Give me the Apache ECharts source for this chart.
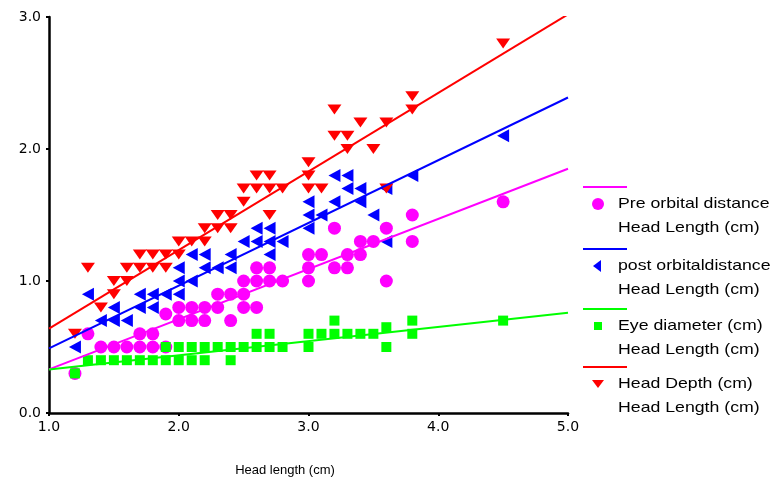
<!DOCTYPE html>
<html>
<head>
<meta charset="utf-8">
<script src="https://cdn.jsdelivr.net/npm/echarts@6/dist/echarts.min.js"></script>
<style>
  html, body { margin: 0; padding: 0; background: #fff; }
  #chart { width: 777px; height: 485px; }
</style>
</head>
<body>
<div id="chart"></div>
<script>
// points, [head length, value]
const preOrbital = [
  [1.2, 0.3], [1.3, 0.6], [1.4, 0.5], [1.5, 0.5], [1.6, 0.5], [1.7, 0.5], [1.8, 0.5],
  [1.7, 0.6], [1.8, 0.6], [1.9, 0.5], [1.9, 0.75],
  [2.0, 0.7], [2.1, 0.7], [2.2, 0.7], [2.4, 0.7],
  [2.0, 0.8], [2.1, 0.8], [2.2, 0.8], [2.3, 0.8], [2.5, 0.8], [2.6, 0.8],
  [2.3, 0.9], [2.4, 0.9], [2.5, 0.9],
  [2.5, 1.0], [2.6, 1.0], [2.7, 1.0], [2.8, 1.0], [3.0, 1.0],
  [2.6, 1.1], [2.7, 1.1], [3.0, 1.1], [3.2, 1.1], [3.3, 1.1],
  [3.0, 1.2], [3.1, 1.2], [3.3, 1.2], [3.4, 1.2],
  [3.4, 1.3], [3.5, 1.3], [3.8, 1.3],
  [3.2, 1.4], [3.6, 1.4], [3.8, 1.5], [3.6, 1.0], [4.5, 1.6]
];
const postOrbital = [
  [1.2, 0.5], [1.3, 0.9], [1.4, 0.7], [1.5, 0.7], [1.5, 0.8], [1.6, 0.7],
  [1.7, 0.8], [1.7, 0.9], [1.8, 0.8], [1.8, 0.9], [1.9, 0.9],
  [2.0, 0.9], [2.0, 1.0], [2.0, 1.1], [2.1, 1.0], [2.1, 1.2],
  [2.2, 1.1], [2.2, 1.2], [2.3, 1.1], [2.4, 1.1], [2.4, 1.2],
  [2.5, 1.3], [2.6, 1.3], [2.7, 1.3], [2.8, 1.3], [2.6, 1.4], [2.7, 1.4], [2.7, 1.2],
  [3.0, 1.4], [3.0, 1.5], [3.0, 1.6], [3.1, 1.5], [3.2, 1.6],
  [3.2, 1.8], [3.3, 1.8], [3.3, 1.7], [3.4, 1.7], [3.4, 1.6],
  [3.5, 1.5], [3.6, 1.7], [3.6, 1.3], [3.8, 1.8], [4.5, 2.1]
];
const eyeDiameter = [
  [1.2, 0.3],
  [1.3, 0.4], [1.4, 0.4], [1.5, 0.4], [1.6, 0.4], [1.7, 0.4], [1.8, 0.4], [1.9, 0.4],
  [2.0, 0.4], [2.1, 0.4], [2.2, 0.4], [2.4, 0.4],
  [1.9, 0.5], [2.0, 0.5], [2.1, 0.5], [2.2, 0.5], [2.3, 0.5], [2.4, 0.5], [2.5, 0.5],
  [2.6, 0.5], [2.7, 0.5], [2.8, 0.5], [2.6, 0.6], [2.7, 0.6],
  [3.0, 0.5], [3.0, 0.6], [3.1, 0.6], [3.2, 0.6], [3.3, 0.6], [3.4, 0.6], [3.5, 0.6],
  [3.2, 0.7], [3.6, 0.65], [3.6, 0.5], [3.8, 0.6], [3.8, 0.7], [4.5, 0.7]
];
const headDepth = [
  [1.2, 0.6], [1.3, 1.1], [1.4, 0.8], [1.5, 0.9], [1.5, 1.0], [1.6, 1.0], [1.6, 1.1],
  [1.7, 1.1], [1.7, 1.2], [1.8, 1.1], [1.8, 1.2], [1.9, 1.1], [1.9, 1.2],
  [2.0, 1.2], [2.0, 1.3], [2.1, 1.3], [2.2, 1.3], [2.2, 1.4], [2.3, 1.4], [2.3, 1.5],
  [2.4, 1.4], [2.4, 1.5], [2.5, 1.6], [2.5, 1.7], [2.6, 1.7], [2.6, 1.8],
  [2.7, 1.5], [2.7, 1.7], [2.7, 1.8], [2.8, 1.7],
  [3.0, 1.7], [3.0, 1.8], [3.0, 1.9], [3.1, 1.7],
  [3.2, 2.1], [3.2, 2.3], [3.3, 2.0], [3.3, 2.1], [3.4, 2.2], [3.5, 2.0],
  [3.6, 1.7], [3.6, 2.2], [3.8, 2.3], [3.8, 2.4], [4.5, 2.8]
];

// regression lines, value at head length 1.0 and 5.0
const fitX = [1.0, 5.0];
const preFit = [0.33, 1.85];
const postFit = [0.49, 2.39];
const eyeFit = [0.33, 0.76];
const depthFit = [0.64, 3.02];

const xTicks = [1, 2, 3, 4, 5];
const yTicks = [0, 1, 2, 3];

const legendItems = [
  { color: '#ff00ff', symbol: 'circle', label: 'Pre orbital distance' },
  { color: '#0000ff', symbol: 'left', label: 'post orbitaldistance' },
  { color: '#00ff00', symbol: 'square', label: 'Eye diameter (cm)' },
  { color: '#ff0000', symbol: 'down', label: 'Head Depth (cm)' }
];
// y of each legend colour line
const legendTops = [187, 249, 309, 367];

const FONT = "'Liberation Sans', Arial, sans-serif";
const TICK_FONT = "'DejaVu Sans', sans-serif";

const chart = echarts.init(document.getElementById('chart'), null, { renderer: 'canvas' });

const fitLine = (vals, color) => ({
  type: 'line',
  data: fitX.map((x, i) => [x, vals[i]]),
  symbol: 'none',
  lineStyle: { color: color, width: 2 },
  z: 5,
  silent: true
});

// legend drawn by hand: line, symbol, two text rows
const legendGraphic = [];
legendItems.forEach((item, i) => {
  const top = legendTops[i];
  legendGraphic.push({
    type: 'line',
    shape: { x1: 583, y1: top, x2: 627, y2: top },
    style: { stroke: item.color, lineWidth: 2 }
  });
  const sy = top + 17, sx = 598;
  if (item.symbol === 'circle') {
    legendGraphic.push({ type: 'circle', shape: { cx: sx, cy: sy, r: 6 }, style: { fill: item.color } });
  } else if (item.symbol === 'square') {
    legendGraphic.push({ type: 'rect', shape: { x: sx - 4, y: sy - 4, width: 8, height: 8 }, style: { fill: item.color } });
  } else if (item.symbol === 'left') {
    legendGraphic.push({ type: 'polygon', shape: { points: [[sx - 5, sy], [sx + 3, sy - 6], [sx + 3, sy + 6]] }, style: { fill: item.color } });
  } else {
    legendGraphic.push({ type: 'polygon', shape: { points: [[sx - 6, sy - 4], [sx + 6, sy - 4], [sx, sy + 4]] }, style: { fill: item.color } });
  }
  legendGraphic.push({
    type: 'text', x: 618, y: sy, scaleX: 1.18,
    style: { text: item.label, fill: '#000', fontSize: 15, fontFamily: FONT, verticalAlign: 'middle' }
  });
  legendGraphic.push({
    type: 'text', x: 618, y: sy + 24, scaleX: 1.18,
    style: { text: 'Head Length (cm)', fill: '#000', fontSize: 15, fontFamily: FONT, verticalAlign: 'middle' }
  });
});

const option = {
  backgroundColor: '#fff',
  animation: false,
  grid: { left: 49, right: 209, top: 17, bottom: 72 },
  xAxis: {
    type: 'value',
    min: xTicks[0],
    max: xTicks[xTicks.length - 1],
    interval: 1,
    axisLine: { lineStyle: { color: '#000', width: 2.5 } },
    axisTick: { show: true, length: 3, lineStyle: { color: '#000', width: 2 } },
    axisLabel: { color: '#000', fontSize: 14, fontFamily: TICK_FONT, margin: 7, formatter: v => v.toFixed(1) },
    splitLine: { show: false }
  },
  yAxis: {
    type: 'value',
    min: yTicks[0],
    max: yTicks[yTicks.length - 1],
    interval: 1,
    axisLine: { show: true, lineStyle: { color: '#000', width: 2.5 } },
    axisTick: { show: true, length: 3, lineStyle: { color: '#000', width: 2 } },
    axisLabel: { color: '#000', fontSize: 14, fontFamily: TICK_FONT, margin: 8, formatter: v => v.toFixed(1) },
    splitLine: { show: false }
  },
  series: [
    {
      type: 'scatter', name: 'Pre orbital distance', data: preOrbital,
      symbol: 'circle', symbolSize: 13, itemStyle: { color: '#ff00ff', opacity: 1 }, z: 2
    },
    {
      type: 'scatter', name: 'post orbitaldistance', data: postOrbital,
      symbol: 'triangle', symbolRotate: 90, symbolSize: [13, 12], itemStyle: { color: '#0000ff', opacity: 1 }, z: 2
    },
    {
      type: 'scatter', name: 'Eye diameter (cm)', data: eyeDiameter,
      symbol: 'rect', symbolSize: 10, itemStyle: { color: '#00ff00', opacity: 1 }, z: 3
    },
    {
      type: 'scatter', name: 'Head Depth (cm)', data: headDepth,
      symbol: 'triangle', symbolRotate: 180, symbolSize: [14, 10], itemStyle: { color: '#ff0000', opacity: 1 }, z: 3
    },
    fitLine(preFit, '#ff00ff'),
    fitLine(postFit, '#0000ff'),
    fitLine(eyeFit, '#00ff00'),
    fitLine(depthFit, '#ff0000')
  ],
  graphic: legendGraphic.concat([
    {
      type: 'text', x: 285, y: 470,
      style: { text: 'Head length (cm)', fill: '#000', fontSize: 13, fontFamily: FONT, align: 'center', verticalAlign: 'middle' }
    }
  ])
};

chart.setOption(option);
</script>
</body>
</html>
